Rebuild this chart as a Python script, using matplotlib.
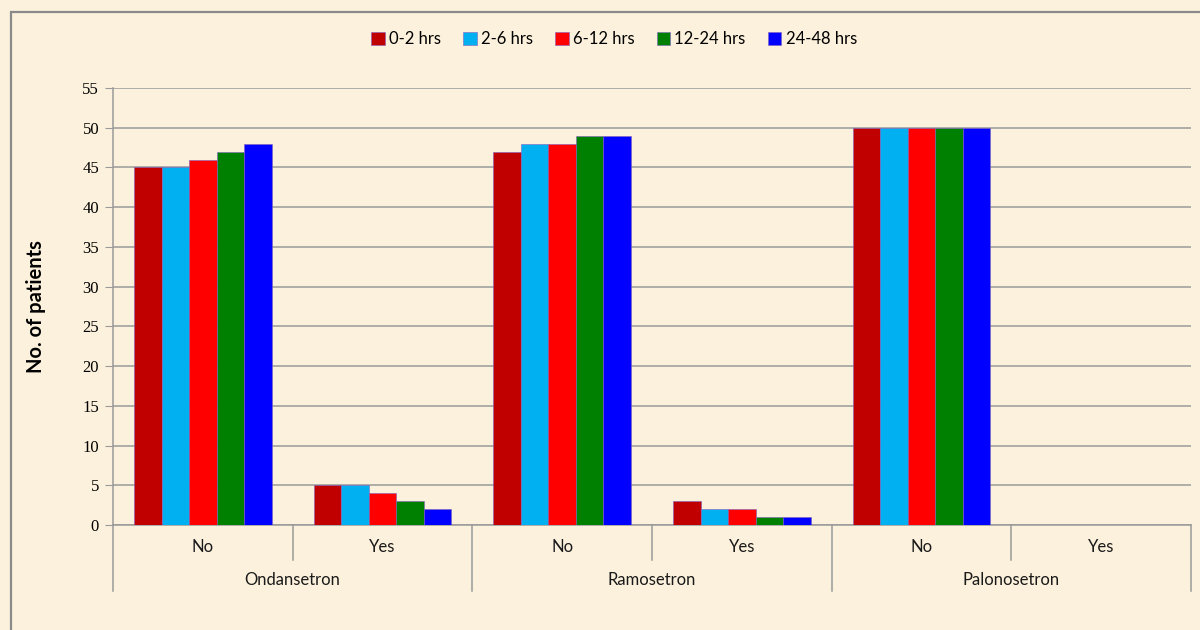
import matplotlib
matplotlib.use("Agg")
import matplotlib.pyplot as plt
from matplotlib.patches import Rectangle
import numpy as np

drugs = ["Ondansetron", "Ramosetron", "Palonosetron"]
responses = ["No", "Yes"]
series_names = ["0-2 hrs", "2-6 hrs", "6-12 hrs", "12-24 hrs", "24-48 hrs"]
colors = ["#C00000", "#00B0F0", "#FF0000", "#008000", "#0000FF"]

# values per series, for categories: Ond-No, Ond-Yes, Ram-No, Ram-Yes, Pal-No, Pal-Yes
v_0_2 = [45, 5, 47, 3, 50, 0]
v_2_6 = [45, 5, 48, 2, 50, 0]
v_6_12 = [46, 4, 48, 2, 50, 0]
v_12_24 = [47, 3, 49, 1, 50, 0]
v_24_48 = [48, 2, 49, 1, 50, 0]
series = [v_0_2, v_2_6, v_6_12, v_12_24, v_24_48]

yticks = list(range(0, 56, 5))

bg = "#FCF1DC"
fig = plt.figure(figsize=(12, 6.3), dpi=100, facecolor=bg)
ax = fig.add_axes([113/1200, 1-525/630, (1191-113)/1200, (525-88)/630])
ax.set_facecolor("none")

# outer frame
fig.patches.append(Rectangle((10.5/1200, -0.02), 1.0, 1-11.5/630 + 0.02,
                             transform=fig.transFigure, fill=False,
                             edgecolor="#8A8A8A", linewidth=1.6, zorder=0))

n_cat = len(drugs) * len(responses)
x = np.arange(n_cat)
bw = 0.153
for i, (vals, c, name) in enumerate(zip(series, colors, series_names)):
    offs = (i - 2) * bw
    ax.bar(x + offs, vals, width=bw, color=c, edgecolor="#8060C0",
           linewidth=0.4, label=name, zorder=3)

ax.set_xlim(-0.5, n_cat - 0.5)
ax.set_ylim(0, 55)
ax.set_yticks(yticks)
ax.set_yticklabels([str(t) for t in yticks], fontfamily="Liberation Serif",
                   fontsize=12)
ax.yaxis.grid(True, color="#9A9A9A", linewidth=1.1, zorder=0)
ax.set_axisbelow(True)
ax.tick_params(axis="y", length=6, color="#9A9A9A", pad=4)
ax.set_xticks([])
for s in ["top", "right"]:
    ax.spines[s].set_visible(False)
ax.spines["left"].set_color("#9A9A9A")
ax.spines["bottom"].set_color("#9A9A9A")
ax.spines["left"].set_linewidth(1.1)
ax.spines["bottom"].set_linewidth(1.1)

ax.set_ylabel("No. of patients", fontsize=14.5, fontweight="bold",
              fontfamily="Lato", labelpad=26)

tr = ax.get_xaxis_transform()
# short separators between No/Yes
for k in range(len(drugs)):
    xs = 2 * k + 0.5
    ax.plot([xs, xs], [0, -0.081], transform=tr, color="#9A9A9A",
            linewidth=1.1, clip_on=False)
# long separators between drugs
for k in range(len(drugs) + 1):
    xs = 2 * k - 0.5
    ax.plot([xs, xs], [0, -0.150], transform=tr, color="#9A9A9A",
            linewidth=1.1, clip_on=False)
# labels
for k, d in enumerate(drugs):
    for j, r in enumerate(responses):
        ax.text(2 * k + j, -0.050, r, transform=tr, ha="center", va="center",
                fontsize=12, fontfamily="Lato", color="#1a1a1a")
    ax.text(2 * k + 0.5, -0.126, d, transform=tr, ha="center", va="center",
            fontsize=12, fontfamily="Lato", color="#1a1a1a")

leg = fig.legend(loc="center", bbox_to_anchor=(614/1200, 1-39/630), ncol=5,
                 frameon=False, handlelength=0.8,
                 handleheight=0.8, handletextpad=0.25, columnspacing=1.35,
                 prop={"family": "Lato", "size": 12})

fig.savefig("out.png", dpi=100, facecolor=bg)
